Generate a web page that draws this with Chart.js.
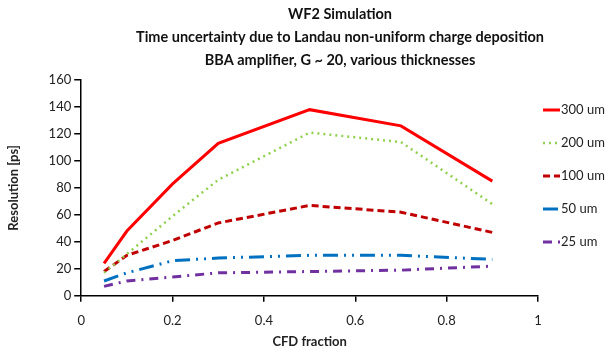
<!DOCTYPE html>
<html>
<head>
<meta charset="utf-8">
<script src="https://cdn.jsdelivr.net/npm/chart.js@4.4.0/dist/chart.umd.min.js"></script>
<style>
  html, body { margin: 0; padding: 0; background: #fff; }
  #wrap { width: 610px; height: 353px; }
</style>
</head>
<body>
<div id="wrap"><canvas id="chart" width="610" height="353"></canvas></div>
<script>
// values
const cfdFraction = [0.05, 0.1, 0.2, 0.3, 0.5, 0.7, 0.9];
const res300 = [24, 48, 83, 113, 138, 126, 85];
const res200 = [17, 31, 59, 86, 121, 114, 68];
const res100 = [18, 30, 41, 54, 67, 62, 47];
const res50 = [11, 17, 26, 28, 30, 30, 27];
const res25 = [7, 11, 14, 17, 18, 19, 22];
const seriesLabels = ['300 um', '200 um', '100 um', '50 um', '25 um'];
const titleLines = ['WF2 Simulation',
	'Time uncertainty due to Landau non-uniform charge deposition',
	'BBA amplifier, G ~ 20, various thicknesses'];

function toPoints(ys) {
	return cfdFraction.map((x, i) => ({ x: x, y: ys[i] }));
}

const fontName = 'Lato, "Open Sans", sans-serif';

// three title lines, centred a bit right of the plot like the original
const topTitle = {
	id: 'topTitle',
	afterDraw(chart) {
		const ctx = chart.ctx;
		ctx.save();
		ctx.font = 'bold 14.5px ' + fontName;
		ctx.fillStyle = '#111';
		ctx.textAlign = 'center';
		ctx.textBaseline = 'middle';
		titleLines.forEach((line, i) => {
			ctx.fillText(line, 340, 14 + i * 23);
		});
		ctx.restore();
	}
};

// legend drawn at the right, one row per series
const sideLegend = {
	id: 'sideLegend',
	afterDraw(chart) {
		const ctx = chart.ctx;
		const area = chart.chartArea;
		const x0 = area.right + 5;
		let y = 110;
		ctx.save();
		ctx.font = '13px ' + fontName;
		ctx.textBaseline = 'middle';
		chart.data.datasets.forEach(ds => {
			ctx.beginPath();
			ctx.strokeStyle = ds.borderColor;
			ctx.lineWidth = ds.borderWidth;
			ctx.setLineDash(ds.borderDash || []);
			ctx.moveTo(x0, y);
			ctx.lineTo(x0 + 17, y);
			ctx.stroke();
			ctx.setLineDash([]);
			ctx.fillStyle = '#222';
			ctx.fillText(ds.label, x0 + 18, y);
			y += 33;
		});
		ctx.restore();
	}
};

let ctx = document.getElementById('chart').getContext('2d');
let resChart = new Chart(ctx, {
	type : 'line',
	data : {
		datasets : [ {
			label : seriesLabels[0],
			data : toPoints(res300),
			borderColor : '#ff0000',
			borderWidth : 3
		}, {
			label : seriesLabels[1],
			data : toPoints(res200),
			borderColor : '#92d050',
			borderWidth : 2.5,
			borderDash : [2, 4]
		}, {
			label : seriesLabels[2],
			data : toPoints(res100),
			borderColor : '#c00000',
			borderWidth : 3,
			borderDash : [7, 4]
		}, {
			label : seriesLabels[3],
			data : toPoints(res50),
			borderColor : '#0070c0',
			borderWidth : 3,
			borderDash : [15, 6, 2, 6, 2, 6]
		}, {
			label : seriesLabels[4],
			data : toPoints(res25),
			borderColor : '#7030a0',
			borderWidth : 3,
			borderDash : [9, 6, 2, 6]
		} ]
	},
	options : {
		responsive : false,
		animation : false,
		elements : {
			point : { radius : 0 },
			line : { tension : 0, fill : false }
		},
		layout : { padding : { left : 4, right : 72, top : 80, bottom : 3 } },
		scales : {
			x : {
				type : 'linear',
				min : 0,
				max : 1,
				ticks : { stepSize : 0.2, padding : 11, color : '#222', font : { family : fontName, size : 13 },
					callback : v => String(Number(v.toFixed(1))) },
				grid : { drawOnChartArea : false, color : '#000', tickLength : 6, lineWidth : 1.5 },
				border : { color : '#000', width : 1.5 },
				title : { display : true, text : 'CFD fraction', color : '#222',
					font : { family : fontName, size : 13, weight : 'bold' }, padding : { top : -5, bottom : 0 } }
			},
			y : {
				min : 0,
				max : 160,
				ticks : { stepSize : 20, color : '#222', font : { family : fontName, size : 13 } },
				grid : { drawOnChartArea : false, color : '#000', tickLength : 7, lineWidth : 1.5 },
				border : { color : '#000', width : 1.5 },
				title : { display : true, text : 'Resolution [ps]', color : '#222',
					font : { family : fontName, size : 13, weight : 'bold' }, padding : { top : 2, bottom : 24 } }
			}
		},
		plugins : {
			legend : { display : false },
			tooltip : { enabled : false },
			title : { display : false }
		}
	},
	plugins : [ topTitle, sideLegend ]
});
</script>
</body>
</html>
